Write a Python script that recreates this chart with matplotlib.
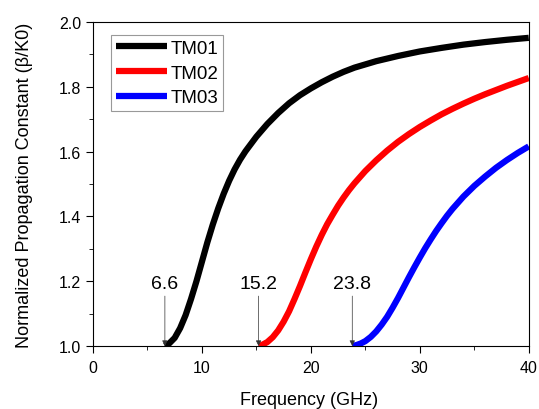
import matplotlib
matplotlib.use("Agg")
import matplotlib.pyplot as plt
from matplotlib.ticker import MultipleLocator, FormatStrFormatter

plt.rcParams['font.family'] = ['Liberation Sans', 'DejaVu Sans']

f_tm01 = [6.6, 7.0, 7.5, 8.0, 8.5, 9.0, 9.5, 10.0, 10.5, 11.0, 11.5, 12.0, 12.5, 13.0, 13.5, 14.0,
          15, 16, 17, 18, 19, 20, 21, 22, 23, 24, 26, 28, 30, 32, 34, 36, 38, 40]
v_tm01 = [1.000, 1.008, 1.025, 1.055, 1.095, 1.145, 1.200, 1.260, 1.320, 1.375, 1.425, 1.470, 1.510, 1.545, 1.575, 1.601,
          1.646, 1.685, 1.719, 1.749, 1.774, 1.795, 1.814, 1.831, 1.846, 1.859, 1.879, 1.895, 1.909, 1.920, 1.930, 1.938, 1.945, 1.951]

f_tm02 = [15.2, 15.5, 16, 16.5, 17, 17.5, 18, 18.5, 19, 19.5, 20, 20.5, 21, 21.5, 22, 22.5, 23, 23.5, 24,
          25, 26, 27, 28, 29, 30, 31, 32, 33, 34, 35, 36, 37, 38, 39, 40]
v_tm02 = [1.000, 1.003, 1.012, 1.027, 1.048, 1.075, 1.107, 1.145, 1.185, 1.227, 1.268, 1.307, 1.343, 1.376, 1.405, 1.433, 1.458, 1.481, 1.502,
          1.540, 1.573, 1.603, 1.630, 1.654, 1.676, 1.696, 1.715, 1.732, 1.748, 1.763, 1.777, 1.790, 1.803, 1.815, 1.827]

f_tm03 = [23.8, 24.2, 24.6, 25, 25.5, 26, 26.5, 27, 27.5, 28, 28.5, 29, 29.5, 30, 30.5, 31, 31.5, 32, 32.5, 33,
          34, 35, 36, 37, 38, 39, 40]
v_tm03 = [1.000, 1.003, 1.008, 1.015, 1.028, 1.045, 1.066, 1.090, 1.118, 1.148, 1.180, 1.212, 1.243, 1.273, 1.302, 1.329, 1.355, 1.379, 1.402, 1.423,
          1.461, 1.494, 1.523, 1.550, 1.574, 1.596, 1.616]

cutoffs = [6.6, 15.2, 23.8]
cutoff_labels = ["6.6", "15.2", "23.8"]

fig = plt.figure(figsize=(5.39, 4.10), dpi=100)
ax = fig.add_axes([0.1725, 0.1537, 0.8085, 0.7903])

ax.plot(f_tm01, v_tm01, color='black', lw=4.5, label='TM01', solid_capstyle='butt')
ax.plot(f_tm02, v_tm02, color='red', lw=4.5, label='TM02', solid_capstyle='butt')
ax.plot(f_tm03, v_tm03, color='blue', lw=4.5, label='TM03', solid_capstyle='butt')

for c, lab in zip(cutoffs, cutoff_labels):
    ax.annotate('', xy=(c, 1.0), xytext=(c, 1.154),
                arrowprops=dict(arrowstyle='-|>', color='#333333', lw=0.5,
                                mutation_scale=8, shrinkA=0, shrinkB=0))
    ax.text(c, 1.166, lab, ha='center', va='bottom', fontsize=14)

ax.set_xlim(0, 40)
ax.set_ylim(1.0, 2.0)
ax.xaxis.set_major_locator(MultipleLocator(10))
ax.xaxis.set_minor_locator(MultipleLocator(5))
ax.yaxis.set_major_locator(MultipleLocator(0.2))
ax.yaxis.set_minor_locator(MultipleLocator(0.1))
ax.tick_params(which='both', direction='out', labelsize=11.5)
ax.tick_params(which='major', length=5)
ax.tick_params(which='minor', length=3)
ax.tick_params(axis='x', pad=5)
ax.yaxis.set_major_formatter(FormatStrFormatter('%.1f'))

ax.set_xlabel('Frequency (GHz)', fontsize=13)
ax.set_ylabel('Normalized Propagation Constant (\u03b2/K0)', fontsize=13)
ax.yaxis.set_label_coords(-0.138, 0.5)
ax.xaxis.set_label_coords(0.497, -0.139)

leg = ax.legend(loc='upper left', bbox_to_anchor=(0.041, 0.96), borderaxespad=0,
                fontsize=13.5, handlelength=2.75, fancybox=False, framealpha=1,
                edgecolor='#999999', borderpad=0.25, labelspacing=0.41,
                handletextpad=0.18)
leg.get_frame().set_linewidth(0.8)

fig.savefig('out.png', dpi=100)
